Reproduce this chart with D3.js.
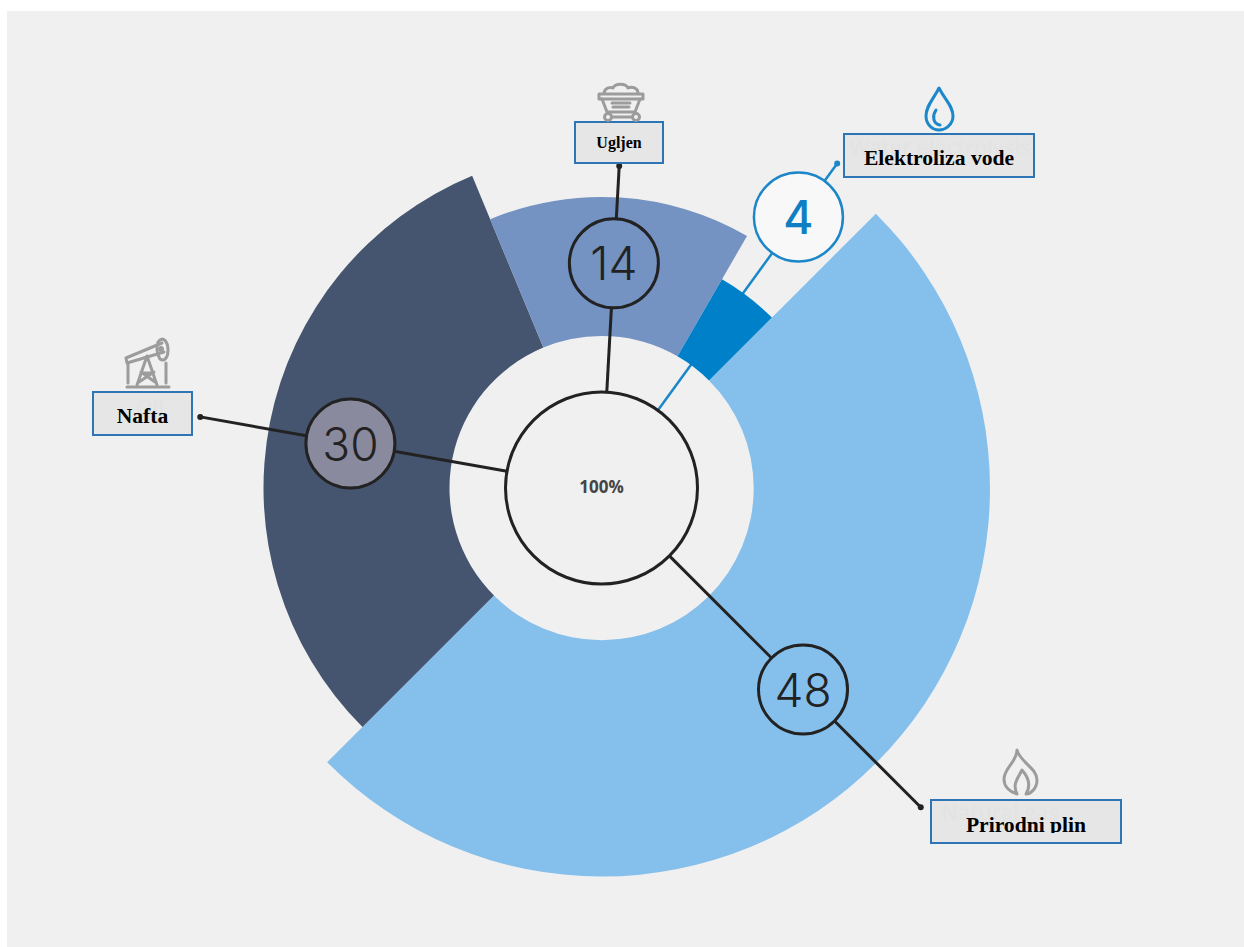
<!DOCTYPE html>
<html lang="hr">
<head>
  <meta charset="UTF-8" />
  <title>Proizvodnja vodika po izvoru</title>
  <style>
    html, body { margin: 0; background: #fff; }
    svg { display: block; }
    .label { font-family: "Liberation Serif", serif; font-weight: 700; fill: #000; text-anchor: middle; }
    .ghost { font-family: "Open Sans", sans-serif; font-weight: 600; fill: #e3e3e3; text-anchor: middle; }
    .num { font-family: Inter, sans-serif; font-weight: 300; text-anchor: middle; }
  </style>
</head>
<body>
  <svg id="chart" width="1244" height="947"></svg>

  <script src="https://d3js.org/d3.v7.min.js"></script>
  <script>
    // data, clockwise from the gas slice
    const sources = ["Prirodni plin", "Nafta", "Ugljen", "Elektroliza vode"];
    const ghostNames = ["Natural gas", "Oil", "", "Water electrolysis"];
    const shares = [48, 30, 14, 4];
    const totalLabel = "100%";

    const sliceColors = ["#85bfec", "#46556f", "#7492c2", "#0080c8"];
    const bubbleFills = ["#85bfec", "#8a8a9e", "#7492c2", "#f8f8f8"];
    const lineColors = ["#222", "#222", "#222", "#1b87c9"];
    const numColors = ["#222", "#222", "#222", "#0f7fc4"];

    // layout, same order as sources
    const cx = 601.5, cy = 488;
    const innerR = 152, hubR = 96, bubbleR = 44.5;
    const outerR = [388, 338, 291, 241];
    const bubbleDist = [285, 255, 225, 335];
    const tipDist = [451.5, 407.5, 322.5, 401];
    const angleNudge = [0, -1.2, -0.6, -1.5];
    const boxes = [
      { x: 931, y: 800, w: 190, h: 43, size: 21.6, base: 832, ghostBase: 820, ghostX: 1000 },
      { x: 93, y: 392, w: 99, h: 43, size: 21.6, base: 423, ghostBase: 415, ghostX: 150 },
      { x: 575, y: 122, w: 88, h: 41, size: 16, base: 148 },
      { x: 844, y: 134, w: 190, h: 43, size: 21.6, base: 165, ghostBase: 155, ghostX: 940 }
    ];

    const svg = d3.select("#chart");
    const defs = svg.append("defs");
    defs.append("filter").attr("id", "soft")
      .append("feGaussianBlur").attr("stdDeviation", 0.6);

    svg.append("rect").attr("x", 7).attr("y", 11)
      .attr("width", 1237).attr("height", 936).attr("fill", "#f0f0f0");

    const pie = d3.pie().sort(null)
      .startAngle(Math.PI / 4).endAngle(Math.PI / 4 + 2 * Math.PI);
    const arcs = pie(shares);

    const root = svg.append("g").attr("transform", `translate(${cx},${cy})`);

    const polar = (deg, r) => {
      const a = deg * Math.PI / 180;
      return [r * Math.sin(a), -r * Math.cos(a)];
    };
    const midDeg = d => (d.startAngle + d.endAngle) / 2 * 180 / Math.PI;

    // electrolysis line runs under its slice, the others on top
    function leader(i) {
      const deg = midDeg(arcs[i]) + angleNudge[i];
      const [x1, y1] = polar(deg, hubR);
      const [x2, y2] = polar(deg, tipDist[i]);
      const g = root.append("g");
      g.append("line").attr("x1", x1).attr("y1", y1).attr("x2", x2).attr("y2", y2)
        .attr("stroke", lineColors[i]).attr("stroke-width", i === 3 ? 2.5 : 3);
      g.append("circle").attr("cx", x2).attr("cy", y2).attr("r", 3).attr("fill", lineColors[i]);
    }

    leader(3);

    root.selectAll("path.slice")
      .data(arcs)
      .enter()
      .append("path")
      .attr("class", "slice")
      .attr("fill", (d, i) => sliceColors[i])
      .attr("d", (d, i) => d3.arc().innerRadius(innerR).outerRadius(outerR[i])(d));

    leader(0); leader(1); leader(2);

    root.append("circle").attr("r", hubR)
      .attr("fill", "#f0f0f0").attr("stroke", "#222").attr("stroke-width", 3);
    root.append("text").attr("y", 5).attr("text-anchor", "middle")
      .style("font", "700 17px 'Open Sans', sans-serif").attr("fill", "#444")
      .text(totalLabel);

    arcs.forEach((d, i) => {
      const [x, y] = polar(midDeg(d) + angleNudge[i], bubbleDist[i]);
      root.append("circle").attr("cx", x).attr("cy", y).attr("r", bubbleR)
        .attr("fill", bubbleFills[i]).attr("stroke", lineColors[i]).attr("stroke-width", i === 3 ? 2.5 : 3);
      root.append("text").attr("class", "num").attr("x", x).attr("y", y + 17)
        .attr("fill", numColors[i])
        .style("font-size", "46px")
        .style("font-weight", i === 3 ? 500 : 300)
        .text(d.data);
    });

    // label boxes; the gas text is cut off by its box
    boxes.forEach((b, i) => {
      const g = svg.append("g");
      g.append("rect").attr("x", b.x).attr("y", b.y).attr("width", b.w).attr("height", b.h)
        .attr("fill", "#e6e6e6").attr("stroke", "#2e75b6").attr("stroke-width", 2);
      if (ghostNames[i]) {
        g.append("text").attr("class", "ghost").attr("x", b.ghostX).attr("y", b.ghostBase)
          .style("font-size", "21px").text(ghostNames[i]);
      }
      defs.append("clipPath").attr("id", "clip" + i).append("rect")
        .attr("x", b.x).attr("y", b.y).attr("width", b.w).attr("height", 33);
      g.append("text").attr("class", "label")
        .attr("x", b.x + b.w / 2).attr("y", b.base)
        .attr("clip-path", i === 0 ? "url(#clip0)" : null)
        .style("font-size", b.size + "px").text(sources[i]);
    });

    // icons
    const icons = svg.append("g").attr("fill", "none").attr("filter", "url(#soft)")
      .attr("stroke-linecap", "round").attr("stroke-linejoin", "round");
    const gray = icons.append("g").attr("stroke", "#9c9c9c").attr("stroke-width", 3);
    const blue = icons.append("g").attr("stroke", "#1b87c9").attr("stroke-width", 3);

    const iconPaths = [
      // coal cart
      "M599 94H643V99H599Z",
      "M602 99L607 112H635L640 99",
      "M612 103H630M613 107H629",
      "M612 117H632",
      "M604 93C605 87 611 87 613 88C615 83 626 83 628 88C632 86 638 88 638 93",
      // pump jack
      "M126 358L162 343M126 358L127 363L164 352",
      "M147 356L137 385M147 356L157 385M141 373H153M139 382L154 372M155 382L141 372",
      "M128 363V383M166 363V383M127 387H169",
      "M158 342C163 335 168 342 168 350C168 358 164 362 160 359C157 354 156 347 158 342Z",
      // flame
      "M1017 750C1020 762 1037 768 1037 780C1037 788 1031 794 1026 794C1031 786 1029 778 1022 770C1018 778 1012 784 1017 794C1010 792 1004 787 1004 779C1004 768 1017 762 1017 750Z"
    ];
    gray.selectAll("path").data(iconPaths).enter().append("path").attr("d", d => d);
    gray.selectAll("circle.wheel").data([608, 636]).enter().append("circle")
      .attr("class", "wheel").attr("cx", d => d).attr("cy", 117).attr("r", 3.5);
    gray.append("circle").attr("cx", 161).attr("cy", 349).attr("r", 1.5);

    blue.append("path").attr("d", "M939 88C933 100 926 106 926 116C926 124 932 130 939 130C946 130 953 124 953 116C953 106 945 100 939 88Z");
    blue.append("path").attr("d", "M936 110C932 116 933 124 940 125");
  </script>
</body>
</html>
